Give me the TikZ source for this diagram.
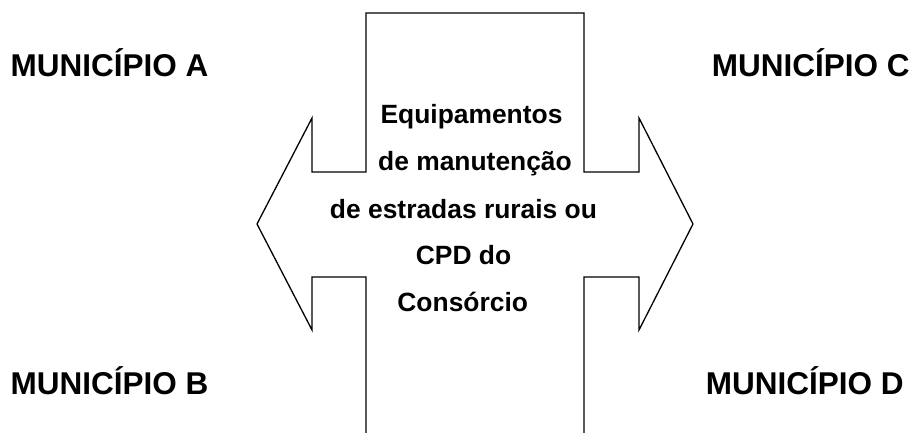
\documentclass[tikz,border=0pt]{standalone}
\usepackage{fontspec}
\setmainfont{Liberation Sans}
\begin{document}
\begin{tikzpicture}[x=1pt,y=-1pt,
  mun/.style={font=\bfseries\fontsize{31.5}{36}\selectfont, inner sep=0pt, anchor=base west},
  ctext/.style={font=\bfseries\fontsize{26.4}{30}\selectfont, inner sep=0pt, anchor=base},
  outline/.style={draw=black, line width=1.3pt, line join=miter}]
\useasboundingbox (0,0) rectangle (915,433);
% cross / double arrow outline
\draw[outline] (366,434) -- (366,277) -- (312,277) -- (312,330) -- (257,224) -- (312,118)
  -- (312,172) -- (366,172) -- (366,13) -- (584,13) -- (584,172) -- (639,172)
  -- (639,118) -- (693,224) -- (639,330) -- (639,277) -- (584,277) -- (584,434);
% municipality labels
\node[mun] (ma) at (10.5,77) {MUNICÍPIO A};
\node[mun] (mb) at (10.5,394) {MUNICÍPIO B};
\node[mun] (mc) at (711.7,77) {MUNICÍPIO C};
\node[mun] (md) at (705.7,394) {MUNICÍPIO D};
% central text
\node[ctext] (t1) at (471.5,124) {Equipamentos};
\node[ctext] (t2) at (475,170.7) {de manutenção};
\node[ctext] (t3) at (463.5,218) {de estradas rurais ou};
\node[ctext] (t4) at (463.5,264) {CPD do};
\node[ctext] (t5) at (462.7,311) {Consórcio};
\end{tikzpicture}
\end{document}
